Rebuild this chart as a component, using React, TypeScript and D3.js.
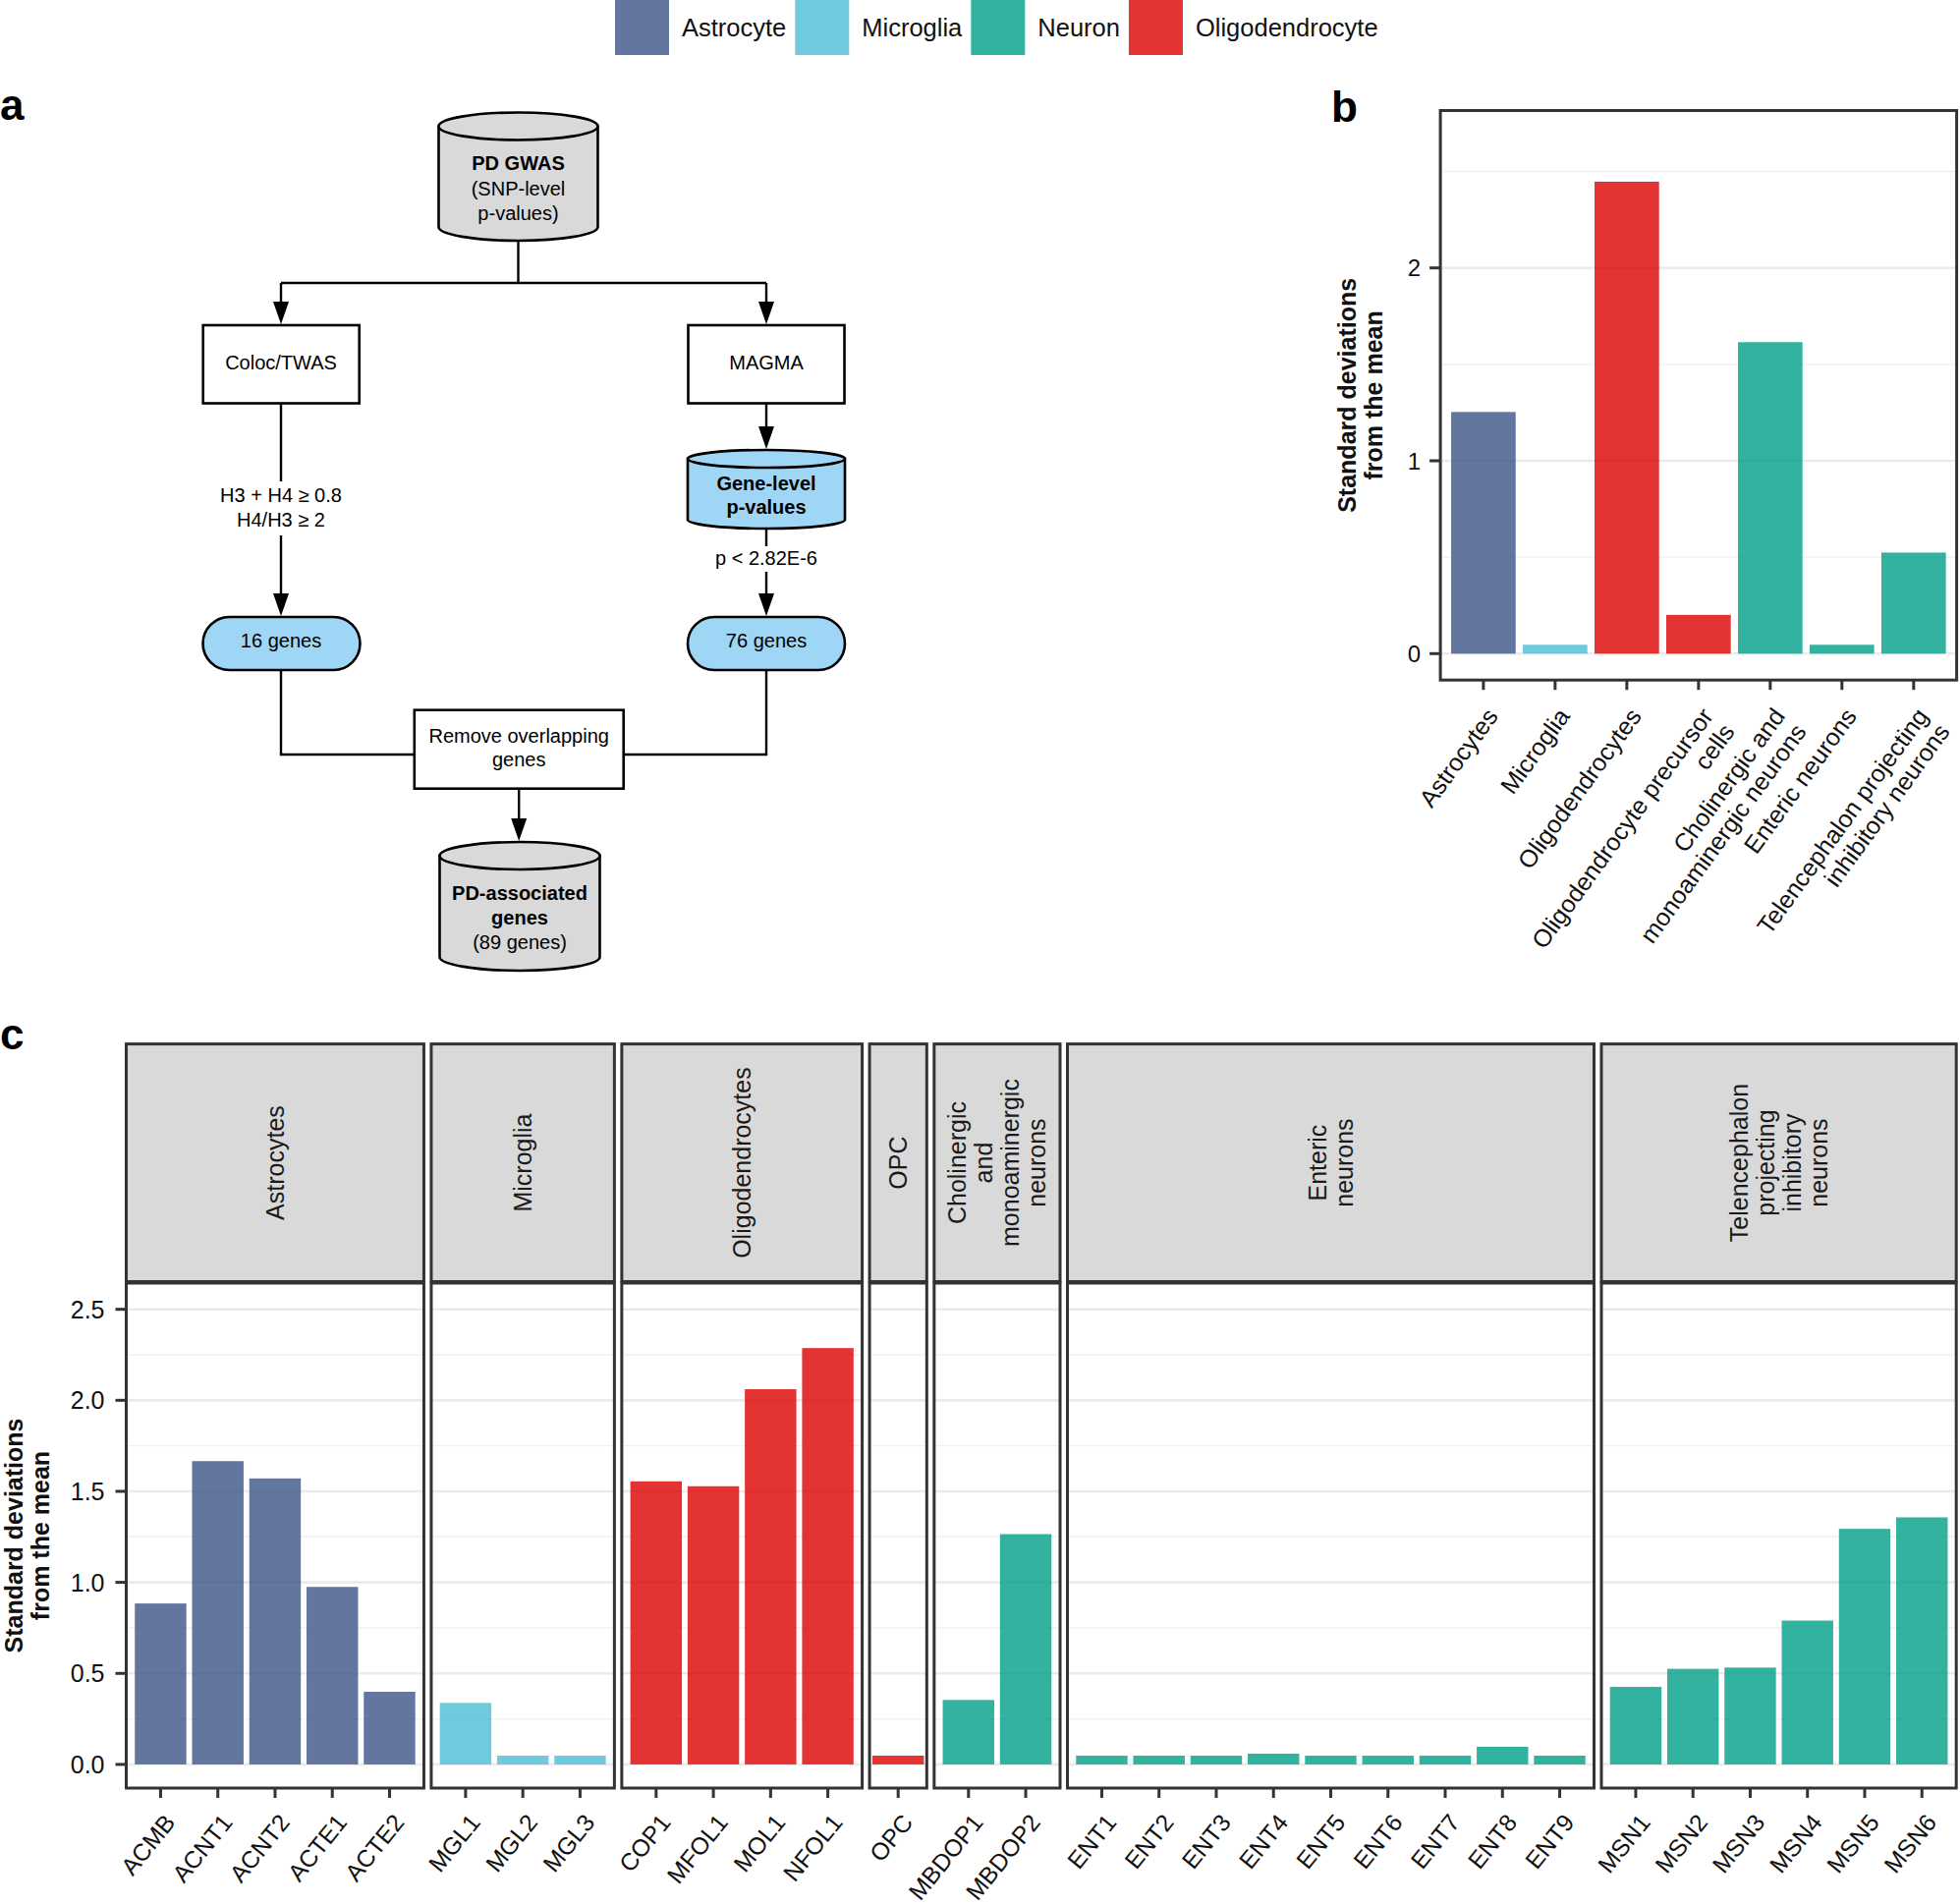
import React from "react";
import * as d3 from "d3";

// ---- legend / colour classes ----
const cellClasses = ["Astrocyte", "Microglia", "Neuron", "Oligodendrocyte"];
const classColors = ["#3C5488", "#4DBBD5", "#00A087", "#DC0000"];

// ---- panel b: level 1 cell types ----
const levelOneTypes = [
  "Astrocytes",
  "Microglia",
  "Oligodendrocytes",
  "Oligodendrocyte precursor\ncells",
  "Cholinergic and\nmonoaminergic neurons",
  "Enteric neurons",
  "Telencephalon projecting\ninhibitory neurons",
];
const levelOneClass = ["Astrocyte", "Microglia", "Oligodendrocyte", "Oligodendrocyte", "Neuron", "Neuron", "Neuron"];
const levelOneSD = [1.253, 0.046, 2.447, 0.201, 1.615, 0.046, 0.524];
const levelOneTicks = [0, 1, 2];

// ---- panel c: level 2 cell types, faceted ----
const groupLabels = [
  "Astrocytes",
  "Microglia",
  "Oligodendrocytes",
  "OPC",
  "Cholinergic\nand\nmonoaminergic\nneurons",
  "Enteric\nneurons",
  "Telencephalon\nprojecting\ninhibitory\nneurons",
];
const groupClass = ["Astrocyte", "Microglia", "Oligodendrocyte", "Oligodendrocyte", "Neuron", "Neuron", "Neuron"];

const astrocyteCells = ["ACMB", "ACNT1", "ACNT2", "ACTE1", "ACTE2"];
const astrocyteSD = [0.884, 1.666, 1.571, 0.975, 0.399];
const microgliaCells = ["MGL1", "MGL2", "MGL3"];
const microgliaSD = [0.338, 0.048, 0.048];
const oligoCells = ["COP1", "MFOL1", "MOL1", "NFOL1"];
const oligoSD = [1.555, 1.528, 2.061, 2.287];
const opcCells = ["OPC"];
const opcSD = [0.048];
const cholinergicCells = ["MBDOP1", "MBDOP2"];
const cholinergicSD = [0.354, 1.265];
const entericCells = ["ENT1", "ENT2", "ENT3", "ENT4", "ENT5", "ENT6", "ENT7", "ENT8", "ENT9"];
const entericSD = [0.048, 0.048, 0.048, 0.059, 0.048, 0.048, 0.048, 0.097, 0.048];
const msnCells = ["MSN1", "MSN2", "MSN3", "MSN4", "MSN5", "MSN6"];
const msnSD = [0.426, 0.525, 0.532, 0.79, 1.294, 1.357];
const levelTwoTicks = [0, 0.5, 1, 1.5, 2, 2.5];

const FONT = "'Liberation Sans', Arial, Helvetica, sans-serif";
const AXIS = "#333333";
const W = 1995;
const H = 1938;

const colorOf = d3.scaleOrdinal<string, string>().domain(cellClasses).range(classColors);

// multi-line text helper (lines stacked along the text's own "down" direction)
function MultiText(props: {
  text: string;
  x: number;
  y: number;
  rotate?: number;
  anchor?: string;
  firstDy: number; // em
  lineHeight?: number; // em
  size: number;
  weight?: string | number;
  fill?: string;
}) {
  const lines = props.text.split("\n");
  const lh = props.lineHeight ?? 1.08;
  return (
    <text
      transform={`translate(${props.x},${props.y}) rotate(${props.rotate ?? 0})`}
      textAnchor={props.anchor ?? "middle"}
      fontFamily={FONT}
      fontSize={props.size}
      fontWeight={props.weight ?? "normal"}
      fill={props.fill ?? "#111"}
    >
      {lines.map((l, i) => (
        <tspan key={i} x={0} dy={`${i === 0 ? props.firstDy : lh}em`}>
          {l}
        </tspan>
      ))}
    </text>
  );
}

// ---------------- flowchart (panel a) ----------------
function cylinder(cx: number, top: number, bottom: number, rx: number, ry: number) {
  const yb = bottom - ry;
  const body = `M${cx - rx},${top + ry} L${cx - rx},${yb} A${rx},${ry} 0 0 0 ${cx + rx},${yb} L${cx + rx},${top + ry} Z`;
  return { body, cx, cy: top + ry, rx, ry };
}

function Arrow({ x, y1, tip }: { x: number; y1: number; tip: number }) {
  const head = 23;
  return (
    <g>
      <line x1={x} y1={y1} x2={x} y2={tip - head + 2} stroke="#000" strokeWidth={2.4} />
      <polygon points={`${x - 8},${tip - head} ${x + 8},${tip - head} ${x},${tip}`} fill="#000" />
    </g>
  );
}

function Cylinder({ c, fill }: { c: ReturnType<typeof cylinder>; fill: string }) {
  return (
    <g>
      <path d={c.body} fill={fill} stroke="#000" strokeWidth={2.6} />
      <ellipse cx={c.cx} cy={c.cy} rx={c.rx} ry={c.ry} fill={fill} stroke="#000" strokeWidth={2.6} />
    </g>
  );
}

function Flowchart() {
  const grey = "#d9d9d9";
  const blue = "#9fd6f5";
  const fs = 20;
  const gwas = cylinder(527.5, 114.5, 245, 81, 14);
  const gene = cylinder(780, 458, 538, 80, 9);
  const assoc = cylinder(529, 857, 988, 81.5, 14);
  const leftX = 286;
  const rightX = 780;
  const t = (x: number, y: number, s: string, bold = false) => (
    <text x={x} y={y + 7} textAnchor="middle" fontFamily={FONT} fontSize={fs} fontWeight={bold ? "bold" : "normal"} fill="#000">
      {s}
    </text>
  );
  return (
    <g>
      {/* split */}
      <line x1={527.5} y1={245} x2={527.5} y2={288} stroke="#000" strokeWidth={2.4} />
      <line x1={leftX} y1={288} x2={rightX} y2={288} stroke="#000" strokeWidth={2.4} />
      <Arrow x={leftX} y1={288} tip={330} />
      <Arrow x={rightX} y1={288} tip={330} />
      <Cylinder c={gwas} fill={grey} />
      {t(527.5, 166, "PD GWAS", true)}
      {t(527.5, 191.5, "(SNP-level")}
      {t(527.5, 216.5, "p-values)")}

      {/* boxes */}
      <rect x={206.7} y={331} width={159} height={79.5} fill="#fff" stroke="#000" strokeWidth={2.6} />
      {t(leftX, 369, "Coloc/TWAS")}
      <rect x={700.5} y={331} width={159} height={79.5} fill="#fff" stroke="#000" strokeWidth={2.6} />
      {t(rightX, 369, "MAGMA")}

      {/* left branch */}
      <line x1={leftX} y1={410.5} x2={leftX} y2={490} stroke="#000" strokeWidth={2.4} />
      {t(leftX, 504, "H3 + H4 \u2265 0.8")}
      {t(leftX, 529, "H4/H3 \u2265 2")}
      <Arrow x={leftX} y1={545} tip={627} />

      {/* right branch */}
      <Arrow x={rightX} y1={410.5} tip={457} />
      <Cylinder c={gene} fill={blue} />
      {t(rightX, 491.5, "Gene-level", true)}
      {t(rightX, 516, "p-values", true)}
      <line x1={rightX} y1={538} x2={rightX} y2={556} stroke="#000" strokeWidth={2.4} />
      {t(rightX, 568, "p < 2.82E-6")}
      <Arrow x={rightX} y1={582} tip={627} />

      {/* gene sets */}
      <rect x={206.5} y={628} width={160} height={54} rx={27} fill={blue} stroke="#000" strokeWidth={2.6} />
      {t(leftX, 652, "16 genes")}
      <rect x={700} y={628} width={160} height={54} rx={27} fill={blue} stroke="#000" strokeWidth={2.6} />
      {t(rightX, 652, "76 genes")}

      {/* merge */}
      <polyline points={`${leftX},682 ${leftX},768 421.8,768`} fill="none" stroke="#000" strokeWidth={2.4} />
      <polyline points={`${rightX},682 ${rightX},768 634.7,768`} fill="none" stroke="#000" strokeWidth={2.4} />
      <rect x={421.8} y={722.7} width={212.9} height={80} fill="#fff" stroke="#000" strokeWidth={2.6} />
      {t(528.2, 748.5, "Remove overlapping")}
      {t(528.2, 773, "genes")}
      <Arrow x={528.2} y1={802.7} tip={856} />
      <Cylinder c={assoc} fill={grey} />
      {t(529, 908.5, "PD-associated", true)}
      {t(529, 933.5, "genes", true)}
      {t(529, 958.5, "(89 genes)")}
    </g>
  );
}

// ---------------- legend ----------------
function Legend() {
  const ctx = typeof document !== "undefined" ? document.createElement("canvas").getContext("2d") : null;
  if (ctx) ctx.font = `25.5px ${FONT}`;
  const widthOf = (s: string) => (ctx ? ctx.measureText(s).width : s.length * 13);
  let cursor = 626;
  const key = 55;
  const items = cellClasses.map((c) => {
    const x = cursor;
    cursor += key + 13 + widthOf(c) + 9;
    return { c, x };
  });
  return (
    <g>
      {items.map(({ c, x }) => (
        <g key={c}>
          <rect x={x} y={0} width={key} height={56} fill={colorOf(c)} fillOpacity={0.8} />
          <text x={x + key + 13} y={37} fontFamily={FONT} fontSize={25.5} fill="#111">
            {c}
          </text>
        </g>
      ))}
    </g>
  );
}

// ---------------- panel b ----------------
function PanelB() {
  const left = 1466.1;
  const right = 1991.6;
  const top = 112.5;
  const bottom = 692.2;
  const x = d3.scaleBand().domain(levelOneTypes).range([left, right]).paddingInner(0.1).paddingOuter(0.15);
  const y = d3.scaleLinear().domain([-0.137, 2.816]).range([bottom, top]);
  const minor = [0.5, 1.5, 2.5];
  return (
    <g>
      {minor.map((v) => (
        <line key={"m" + v} x1={left} x2={right} y1={y(v)} y2={y(v)} stroke="#f0f0f0" strokeWidth={1.4} />
      ))}
      {levelOneTicks.map((v) => (
        <line key={"g" + v} x1={left} x2={right} y1={y(v)} y2={y(v)} stroke="#ebebeb" strokeWidth={2.6} />
      ))}
      {levelOneTypes.map((c, i) => (
        <rect
          key={c}
          x={x(c)!}
          width={x.bandwidth()}
          y={y(levelOneSD[i])}
          height={y(0) - y(levelOneSD[i])}
          fill={colorOf(levelOneClass[i])}
          fillOpacity={0.8}
        />
      ))}
      <rect x={left} y={top} width={right - left} height={bottom - top} fill="none" stroke={AXIS} strokeWidth={3} />
      {levelOneTicks.map((v) => (
        <g key={"t" + v}>
          <line x1={left - 11} x2={left} y1={y(v)} y2={y(v)} stroke={AXIS} strokeWidth={3} />
          <text x={left - 20} y={y(v)} dy="0.36em" textAnchor="end" fontFamily={FONT} fontSize={24} fill="#111">
            {v}
          </text>
        </g>
      ))}
      {levelOneTypes.map((c) => {
        const cx = x(c)! + x.bandwidth() / 2;
        return (
          <g key={"x" + c}>
            <line x1={cx} x2={cx} y1={bottom} y2={bottom + 10} stroke={AXIS} strokeWidth={3} />
            <MultiText text={c} x={cx + 1} y={bottom + 26} rotate={-54} anchor="end" firstDy={0.74} size={25} />
          </g>
        );
      })}
      <MultiText
        text={"Standard deviations\nfrom the mean"}
        x={1380}
        y={(top + bottom) / 2}
        rotate={-90}
        firstDy={0}
        lineHeight={1.08}
        size={25}
        weight="bold"
      />
    </g>
  );
}

// ---------------- panel c ----------------
function PanelC() {
  const groups = [
    { cells: astrocyteCells, sd: astrocyteSD },
    { cells: microgliaCells, sd: microgliaSD },
    { cells: oligoCells, sd: oligoSD },
    { cells: opcCells, sd: opcSD },
    { cells: cholinergicCells, sd: cholinergicSD },
    { cells: entericCells, sd: entericSD },
    { cells: msnCells, sd: msnSD },
  ].map((g, i) => ({ ...g, label: groupLabels[i], cls: groupClass[i] }));

  const L = 128.5;
  const R = 1991.2;
  const gap = 7.5;
  const stripTop = 1062.6;
  const stripBottom = 1304.5;
  const top = 1306;
  const bottom = 1820;
  const units = groups.map((g) => (g.cells.length === 1 ? 1 : g.cells.length + 0.2));
  const unitW = (R - L - gap * (groups.length - 1)) / d3.sum(units);
  let cursor = L;
  const panels = groups.map((g, i) => {
    const x0 = cursor;
    const x1 = cursor + units[i] * unitW;
    cursor = x1 + gap;
    const x = d3
      .scaleBand()
      .domain(g.cells)
      .range([x0, x1])
      .paddingInner(0.1)
      .paddingOuter(g.cells.length === 1 ? 0.05 : 0.15);
    return { ...g, x0, x1, x };
  });
  const y = d3.scaleLinear().domain([-0.13, 2.644]).range([bottom, top]);
  const minor = [0.25, 0.75, 1.25, 1.75, 2.25];
  const fmt = d3.format(".1f");

  return (
    <g>
      {panels.map((p) => {
        const nLines = p.label.split("\n").length;
        return (
          <g key={p.label}>
            <rect x={p.x0} y={stripTop} width={p.x1 - p.x0} height={stripBottom - stripTop} fill="#d9d9d9" stroke={AXIS} strokeWidth={3} />
            <MultiText
              text={p.label}
              x={(p.x0 + p.x1) / 2}
              y={(stripTop + stripBottom) / 2}
              rotate={-90}
              firstDy={0.36 - ((nLines - 1) / 2) * 1.08}
              size={25}
              fill="#1a1a1a"
            />
            {minor.map((v) => (
              <line key={"m" + v} x1={p.x0} x2={p.x1} y1={y(v)} y2={y(v)} stroke="#f0f0f0" strokeWidth={1.4} />
            ))}
            {levelTwoTicks.map((v) => (
              <line key={"g" + v} x1={p.x0} x2={p.x1} y1={y(v)} y2={y(v)} stroke="#ebebeb" strokeWidth={2.6} />
            ))}
            {p.cells.map((c, i) => (
              <rect
                key={c}
                x={p.x(c)!}
                width={p.x.bandwidth()}
                y={y(p.sd[i])}
                height={y(0) - y(p.sd[i])}
                fill={colorOf(p.cls)}
                fillOpacity={0.8}
              />
            ))}
            <rect x={p.x0} y={top} width={p.x1 - p.x0} height={bottom - top} fill="none" stroke={AXIS} strokeWidth={3} />
            {p.cells.map((c) => {
              const cx = p.x(c)! + p.x.bandwidth() / 2;
              return (
                <g key={"x" + c}>
                  <line x1={cx} x2={cx} y1={bottom} y2={bottom + 10} stroke={AXIS} strokeWidth={3} />
                  <MultiText text={c} x={cx + 2} y={bottom + 24} rotate={-51} anchor="end" firstDy={0.74} size={24.5} />
                </g>
              );
            })}
          </g>
        );
      })}
      {levelTwoTicks.map((v) => (
        <g key={"t" + v}>
          <line x1={L - 11} x2={L} y1={y(v)} y2={y(v)} stroke={AXIS} strokeWidth={3} />
          <text x={L - 22} y={y(v)} dy="0.36em" textAnchor="end" fontFamily={FONT} fontSize={25} fill="#111">
            {fmt(v)}
          </text>
        </g>
      ))}
      <MultiText
        text={"Standard deviations\nfrom the mean"}
        x={23}
        y={(top + bottom) / 2}
        rotate={-90}
        firstDy={0}
        lineHeight={1.08}
        size={25}
        weight="bold"
      />
    </g>
  );
}

export default function App() {
  return (
    <svg
      width={W}
      height={H}
      viewBox={`0 0 ${W} ${H}`}
      style={{ position: "absolute", left: 0, top: 0, background: "#fff" }}
    >
      <rect width={W} height={H} fill="#fff" />
      <Legend />
      <text x={0} y={122} fontFamily={FONT} fontSize={44} fontWeight="bold">a</text>
      <text x={1355} y={123.5} fontFamily={FONT} fontSize={44} fontWeight="bold">b</text>
      <text x={0} y={1068} fontFamily={FONT} fontSize={44} fontWeight="bold">c</text>
      <Flowchart />
      <PanelB />
      <PanelC />
    </svg>
  );
}
